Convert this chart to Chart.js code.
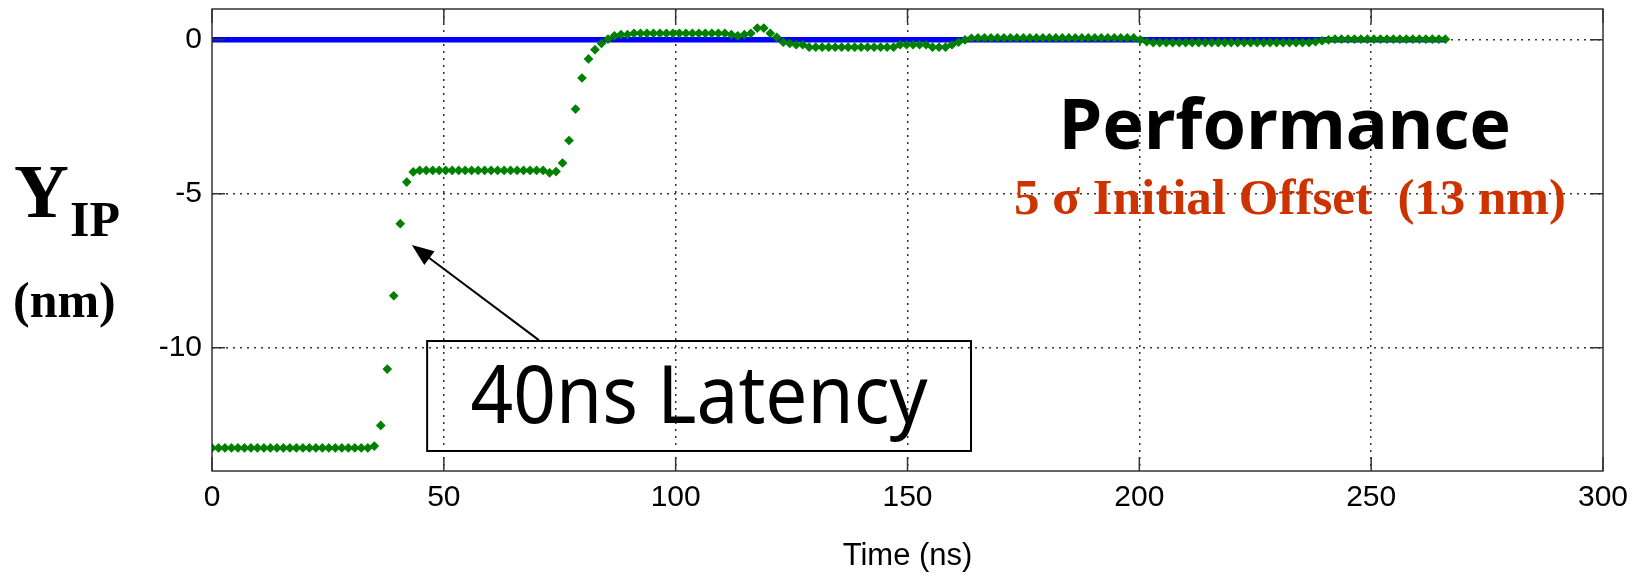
<!DOCTYPE html>
<html>
<head>
<meta charset="utf-8">
<script src="https://cdn.jsdelivr.net/npm/chart.js@4"></script>
<style>
  html, body { margin: 0; padding: 0; background: #fff; }
  canvas { display: block; }
</style>
</head>
<body>
<canvas id="c" width="1641" height="581"></canvas>
<script>
// Vertical beam offset at the IP (nm), one value per bunch, bunches 1.4 ns apart
const bunchSpacingNs = 1.4;
const yIP = [
  -13.25, -13.25, -13.25, -13.25, -13.25, -13.25, -13.25, -13.25, -13.25, -13.25,
  -13.25, -13.25, -13.25, -13.25, -13.25, -13.25, -13.25, -13.25, -13.25, -13.25,
  -13.25, -13.25, -13.25, -13.25, -13.25, -13.19, -12.52, -10.69, -8.31, -5.97,
  -4.62, -4.29, -4.24, -4.24, -4.24, -4.24, -4.24, -4.24, -4.24, -4.24,
  -4.24, -4.24, -4.24, -4.24, -4.24, -4.24, -4.24, -4.24, -4.24, -4.24,
  -4.24, -4.24, -4.32, -4.28, -4.00, -3.27, -2.25, -1.24, -0.62, -0.32,
  -0.12, 0.02, 0.13, 0.17, 0.17, 0.21, 0.21, 0.21, 0.21, 0.21,
  0.21, 0.21, 0.21, 0.21, 0.21, 0.21, 0.21, 0.21, 0.21, 0.21,
  0.17, 0.13, 0.17, 0.21, 0.38, 0.38, 0.21, 0.08, -0.08, -0.12,
  -0.16, -0.16, -0.24, -0.24, -0.24, -0.24, -0.24, -0.24, -0.24, -0.24,
  -0.24, -0.24, -0.24, -0.24, -0.24, -0.24, -0.16, -0.16, -0.16, -0.16,
  -0.16, -0.24, -0.24, -0.24, -0.16, -0.08, 0.00, 0.05, 0.06, 0.06,
  0.06, 0.06, 0.06, 0.06, 0.06, 0.06, 0.06, 0.06, 0.06, 0.06,
  0.06, 0.06, 0.06, 0.06, 0.06, 0.06, 0.06, 0.06, 0.06, 0.06,
  0.06, 0.06, 0.06, 0.00, -0.06, -0.09, -0.09, -0.09, -0.09, -0.09,
  -0.09, -0.09, -0.09, -0.09, -0.09, -0.09, -0.09, -0.09, -0.09, -0.09,
  -0.09, -0.09, -0.09, -0.09, -0.09, -0.09, -0.09, -0.09, -0.09, -0.09,
  -0.06, -0.03, 0.00, 0.02, 0.02, 0.02, 0.02, 0.02, 0.02, 0.02,
  0.02, 0.02, 0.02, 0.02, 0.02, 0.02, 0.02, 0.02, 0.02, 0.02,
  0.02
];
const bunchTimes = yIP.map((_, i) => +(i * bunchSpacingNs).toFixed(1));

// Nominal (zero-offset) target over the bunch train
const targetTimes = [0, 266];
const targetValues = [0, 0];

// Axis ticks
const xTicks = [0, 50, 100, 150, 200, 250, 300];
const yTicks = [-10, -5, 0];

const sansFont = "'Liberation Sans', Arial, sans-serif";
const serifFont = "'Liberation Serif', 'Times New Roman', serif";

// Boxed axes with inward tick marks on all four sides
const frame = {
  id: 'frame',
  afterDatasetsDraw(chart) {
    const { ctx, chartArea: a, scales: { x, y } } = chart;
    ctx.save();
    ctx.strokeStyle = '#333';
    ctx.lineWidth = 1.5;
    ctx.strokeRect(a.left, a.top, a.right - a.left, a.bottom - a.top);
    ctx.beginPath();
    xTicks.forEach(v => {
      const p = x.getPixelForValue(v);
      ctx.moveTo(p, a.bottom); ctx.lineTo(p, a.bottom - 14);
      ctx.moveTo(p, a.top); ctx.lineTo(p, a.top + 14);
    });
    yTicks.forEach(v => {
      const p = y.getPixelForValue(v);
      ctx.moveTo(a.left, p); ctx.lineTo(a.left + 13, p);
      ctx.moveTo(a.right, p); ctx.lineTo(a.right - 13, p);
    });
    ctx.stroke();
    ctx.restore();
  }
};

// Axis label with subscript, callout and headline texts
const notes = {
  id: 'notes',
  afterDraw(chart) {
    const { ctx, scales: { x, y } } = chart;
    const X = v => x.getPixelForValue(v);
    const Y = v => y.getPixelForValue(v);
    ctx.save();
    ctx.fillStyle = '#000';
    ctx.textBaseline = 'alphabetic';

    // Y_IP (nm)
    ctx.textAlign = 'left';
    ctx.font = `bold 76px ${serifFont}`;
    ctx.fillText('Y', 14, 217);
    ctx.font = `bold 50px ${serifFont}`;
    ctx.fillText('IP', 70, 236);
    ctx.fillText('(nm)', 13, 317);

    // Latency callout box
    ctx.strokeStyle = '#000';
    ctx.lineWidth = 2;
    const bx0 = X(46.4), bx1 = X(163.7), by0 = Y(-9.78), by1 = Y(-13.35);
    ctx.strokeRect(bx0, by0, bx1 - bx0, by1 - by0);
    ctx.textAlign = 'center';
    ctx.font = `80px 'Noto Sans', sans-serif`;
    ctx.fillText('40ns Latency', (bx0 + bx1) / 2, Y(-12.44), 457);

    // Arrow pointing at the start of the correction
    const x0 = X(70.5), y0 = Y(-9.75), x1 = X(43.1), y1 = Y(-6.66);
    const ang = Math.atan2(y1 - y0, x1 - x0);
    const c = Math.cos(ang), s = Math.sin(ang);
    const hl = 22, hw = 8.5;
    ctx.beginPath();
    ctx.moveTo(x0, y0);
    ctx.lineTo(x1 - hl * 0.8 * c, y1 - hl * 0.8 * s);
    ctx.stroke();
    ctx.beginPath();
    ctx.moveTo(x1, y1);
    ctx.lineTo(x1 - hl * c + hw * s, y1 - hl * s - hw * c);
    ctx.lineTo(x1 - hl * c - hw * s, y1 - hl * s + hw * c);
    ctx.closePath();
    ctx.fill();

    // Headline
    ctx.font = `bold 70px 'Noto Sans', sans-serif`;
    ctx.fillText('Performance', X(231.4), Y(-3.55), 453);
    ctx.fillStyle = '#cc3300';
    ctx.font = `bold 51px ${serifFont}`;
    ctx.fillText('5 \u03c3 Initial Offset  (13 nm)', X(232.5), Y(-5.66), 575);
    ctx.restore();
  }
};

new Chart(document.getElementById('c'), {
  type: 'scatter',
  data: {
    datasets: [
      {
        label: 'Y IP',
        data: bunchTimes.map((t, i) => ({ x: t, y: yIP[i] })),
        showLine: false,
        pointStyle: 'rectRot',
        pointRadius: 4,
        pointBackgroundColor: '#008000',
        pointBorderColor: '#008000',
        pointBorderWidth: 1.2,
        order: 0
      },
      {
        label: 'Target',
        data: targetTimes.map((t, i) => ({ x: t, y: targetValues[i] })),
        showLine: true,
        pointRadius: 0,
        borderColor: '#0000ff',
        borderWidth: 5.5,
        borderCapStyle: 'butt',
        order: 1
      }
    ]
  },
  options: {
    responsive: false,
    animation: false,
    devicePixelRatio: 1,
    events: [],
    layout: { padding: { left: 0, right: 38, top: 9, bottom: 0 } },
    plugins: { legend: { display: false }, tooltip: { enabled: false } },
    scales: {
      x: {
        type: 'linear',
        min: 0,
        max: 300,
        afterBuildTicks: s => { s.ticks = xTicks.map(v => ({ value: v })); },
        afterFit: s => { s.height = 110; s.paddingLeft = 0; s.paddingRight = 0; },
        ticks: { color: '#000', font: { family: sansFont, size: 30 }, padding: 9, maxRotation: 0 },
        grid: {
          drawTicks: false,
          lineWidth: 1.5,
          color: c => (c.tick && c.tick.value > 0 && c.tick.value < 300) ? '#333' : 'rgba(0,0,0,0)'
        },
        border: { display: false, dash: [2, 5] },
        title: {
          display: true,
          text: 'Time (ns)',
          color: '#000',
          font: { family: sansFont, size: 31 },
          padding: { top: 0, bottom: 6 }
        }
      },
      y: {
        type: 'linear',
        min: -14,
        max: 1,
        afterBuildTicks: s => { s.ticks = yTicks.map(v => ({ value: v })); },
        afterFit: s => { s.width = 212; s.paddingTop = 0; s.paddingBottom = 0; },
        ticks: { color: '#000', font: { family: sansFont, size: 30 }, padding: 10 },
        grid: { drawTicks: false, lineWidth: 1.5, color: '#333' },
        border: { display: false, dash: [2, 5] }
      }
    }
  },
  plugins: [frame, notes]
});
</script>
</body>
</html>
